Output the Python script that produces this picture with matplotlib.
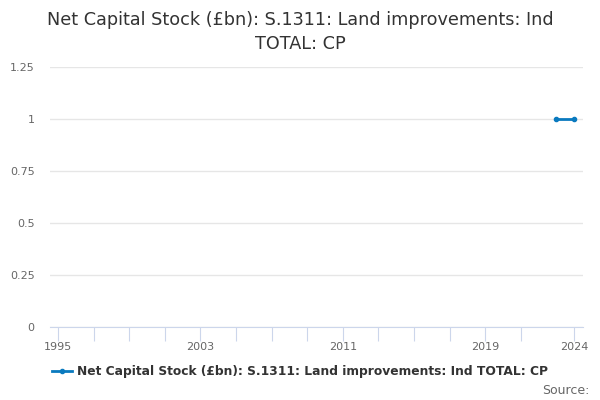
import matplotlib
matplotlib.use("Agg")
import matplotlib.pyplot as plt

years = [2023, 2024]
values = [1, 1]
tick_years = [1995, 1997, 1999, 2001, 2003, 2005, 2007, 2009, 2011, 2013, 2015, 2017, 2019, 2021, 2024]
label_years = [1995, 2003, 2011, 2019, 2024]
series_name = "Net Capital Stock (£bn): S.1311: Land improvements: Ind TOTAL: CP"

fig = plt.figure(figsize=(6, 4), dpi=100)
ax = fig.add_axes([50/600, 1-327/400, 533/600, 260/400])

ax.plot(years, values, color="#0a7abf", lw=2, marker="o", ms=3, label=series_name)

ax.set_xlim(1994.55, 2024.49)
ax.set_ylim(0, 1.25)
ax.set_yticks([0, 0.25, 0.5, 0.75, 1, 1.25])
ax.set_yticklabels(["0", "0.25", "0.5", "0.75", "1", "1.25"])
ax.set_xticks(tick_years)
ax.set_xticklabels([str(y) if y in label_years else "" for y in tick_years])
ax.grid(axis="y", color="#e6e6e6", lw=1)
ax.set_axisbelow(True)
for s in ["top", "right", "left"]:
    ax.spines[s].set_visible(False)
ax.spines["bottom"].set_color("#ccd6eb")
ax.tick_params(axis="x", length=10, color="#ccd6eb", labelsize=8, labelcolor="#666666", pad=1)
ax.tick_params(axis="y", length=0, labelsize=8, labelcolor="#666666", pad=11)

fig.text(0.5, 1-32/400, "Net Capital Stock (£bn): S.1311: Land improvements: Ind\nTOTAL: CP",
         ha="center", va="center", fontsize=12.7, color="#333333", linespacing=1.36)

fig.legend(loc="center", bbox_to_anchor=(0.5, 1-372/400), frameon=False,
           prop={"weight": "bold", "size": 8.8}, labelcolor="#333333",
           handlelength=1.6, handletextpad=0.4)
fig.text(0.982, 1-391/400, "Source:", ha="right", va="center", fontsize=9, color="#666666")

fig.savefig("out.png", dpi=100)
